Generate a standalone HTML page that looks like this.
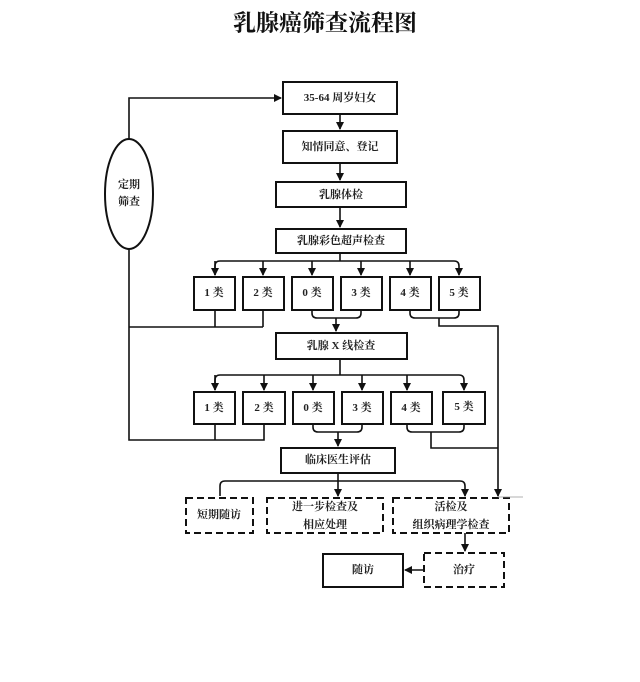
<!DOCTYPE html>
<html><head><meta charset="utf-8"><style>
html,body{margin:0;padding:0;background:#fff;}
svg text{font-family:"Liberation Serif","Noto Serif CJK SC",serif;font-size:11px;fill:#222;text-anchor:middle;dominant-baseline:central;font-weight:bold}
</style></head><body>
<svg width="640" height="677" viewBox="0 0 640 677" xmlns="http://www.w3.org/2000/svg">
<defs><marker id="a" markerWidth="8" markerHeight="8" refX="7" refY="4" orient="auto" markerUnits="userSpaceOnUse"><path d="M0,0 L8,4 L0,8 Z" fill="#111"/></marker></defs>
<text x="325" y="23" style="font-size:23px;font-weight:bold;fill:#111">乳腺癌筛查流程图</text>
<g fill="none" stroke="#111" stroke-width="2">
<rect x="283" y="82" width="114" height="32"/>
<rect x="283" y="131" width="114" height="32"/>
<rect x="276" y="182" width="130" height="25"/>
<rect x="276" y="229" width="130" height="24"/>
<rect x="194" y="277" width="41" height="33"/><rect x="243" y="277" width="41" height="33"/>
<rect x="292" y="277" width="41" height="33"/><rect x="341" y="277" width="41" height="33"/>
<rect x="390" y="277" width="41" height="33"/><rect x="439" y="277" width="41" height="33"/>
<rect x="276" y="333" width="131" height="26"/>
<rect x="194" y="392" width="41" height="32"/><rect x="243" y="392" width="42" height="32"/>
<rect x="293" y="392" width="41" height="32"/><rect x="342" y="392" width="41" height="32"/>
<rect x="391" y="392" width="41" height="32"/><rect x="443" y="392" width="42" height="32"/>
<rect x="281" y="448" width="114" height="25"/>
<rect x="323" y="554" width="80" height="33"/>
<ellipse cx="129" cy="194" rx="24" ry="55"/>
</g>
<g fill="none" stroke="#111" stroke-width="2" stroke-dasharray="7,4">
<rect x="186" y="498" width="67" height="35"/>
<rect x="267" y="498" width="116" height="35"/>
<rect x="393" y="498" width="116" height="35"/>
<rect x="424" y="553" width="80" height="34"/>
</g>
<g fill="none" stroke="#111" stroke-width="1.6">
<path d="M129,139 V98 H281" marker-end="url(#a)"/>
<path d="M340,114 V129" marker-end="url(#a)"/>
<path d="M340,163 V180" marker-end="url(#a)"/>
<path d="M340,207 V227" marker-end="url(#a)"/>
<path d="M340,253 V261"/>
<path d="M215,275 V266 Q215,261 220,261 H454 Q459,261 459,266 V275" marker-end="url(#a)"/>
<path d="M263,261 V275" marker-end="url(#a)"/><path d="M312,261 V275" marker-end="url(#a)"/>
<path d="M361,261 V275" marker-end="url(#a)"/><path d="M410,261 V275" marker-end="url(#a)"/>
<path d="M215,261 V275" marker-end="url(#a)"/>
<path d="M215,310 V327 M263,310 V327 M129,327 H263"/>
<path d="M129,249 V440 H264 V424 M215,424 V440"/>
<path d="M312,310 V313 Q312,318 317,318 H356 Q361,318 361,313 V310"/>
<path d="M336,318 V331" marker-end="url(#a)"/>
<path d="M410,310 V313 Q410,318 415,318 H454 Q459,318 459,313 V310"/>
<path d="M439,318 V326 H498 V496" marker-end="url(#a)"/>
<path d="M340,359 V375"/>
<path d="M215,390 V380 Q215,375 220,375 H459 Q464,375 464,380 V390" marker-end="url(#a)"/>
<path d="M264,375 V390" marker-end="url(#a)"/><path d="M313,375 V390" marker-end="url(#a)"/>
<path d="M362,375 V390" marker-end="url(#a)"/><path d="M407,375 V390" marker-end="url(#a)"/>
<path d="M215,375 V390" marker-end="url(#a)"/>
<path d="M313,424 V427 Q313,432 318,432 H357 Q362,432 362,427 V424"/>
<path d="M338,432 V446" marker-end="url(#a)"/>
<path d="M407,424 V427 Q407,432 412,432 H459 Q464,432 464,427 V424"/>
<path d="M431,432 V448 H498"/>
<path d="M338,473 V481"/>
<path d="M220,496 V486 Q220,481 225,481 H460 Q465,481 465,486 V496" marker-end="url(#a)"/>
<path d="M338,481 V496" marker-end="url(#a)"/>
<path d="M465,533 V551" marker-end="url(#a)"/>
<path d="M424,570 H405" marker-end="url(#a)"/>
</g>
<line x1="498" y1="497" x2="523" y2="497" stroke="#999" stroke-width="0.8"/>
<text x="340" y="98">35-64 周岁妇女</text>
<text x="340" y="147">知情同意、登记</text>
<text x="341" y="195">乳腺体检</text>
<text x="341" y="241">乳腺彩色超声检查</text>
<text x="214" y="293">1 类</text><text x="263" y="293">2 类</text>
<text x="312" y="293">0 类</text><text x="361" y="293">3 类</text>
<text x="410" y="293">4 类</text><text x="459" y="293">5 类</text>
<text x="341" y="346">乳腺 X 线检查</text>
<text x="214" y="408">1 类</text><text x="264" y="408">2 类</text>
<text x="313" y="408">0 类</text><text x="362" y="408">3 类</text>
<text x="411" y="408">4 类</text><text x="464" y="407">5 类</text>
<text x="338" y="460">临床医生评估</text>
<text x="219" y="515">短期随访</text>
<text x="325" y="507">进一步检查及</text><text x="325" y="525">相应处理</text>
<text x="451" y="507">活检及</text><text x="451" y="525">组织病理学检查</text>
<text x="363" y="570">随访</text>
<text x="464" y="570">治疗</text>
<text x="129" y="185">定期</text><text x="129" y="202">筛查</text>
</svg>
</body></html>
